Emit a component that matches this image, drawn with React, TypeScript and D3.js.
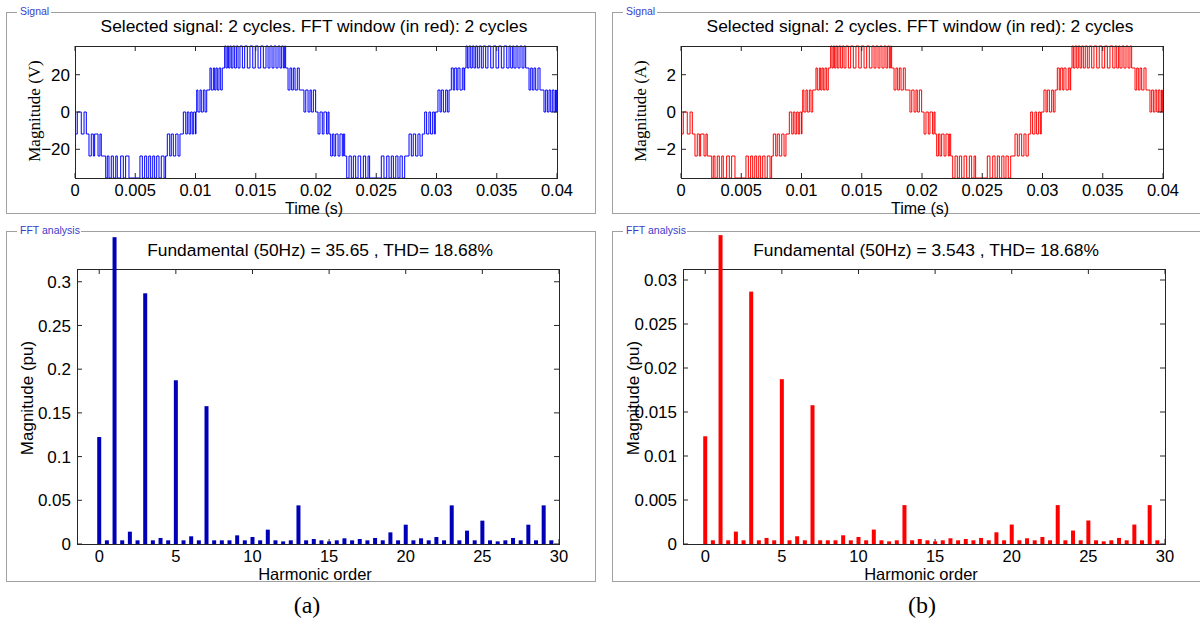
import React from "react";
import * as d3 from "d3";

// ---- signal panel data ----
const timeTicks = [0, 0.005, 0.01, 0.015, 0.02, 0.025, 0.03, 0.035, 0.04];
const voltTicks = [-20, 0, 20];
const ampTicks = [-2, 0, 2];

// Seven-level inverter output: [time (ms), level index]
const levelSteps: [number, number][] = [
  [0, 0], [0.05, -1], [0.19, 0], [0.52, -1], [0.75, 0], [0.94, -1],
  [1.16, -2], [1.35, -1], [1.52, -2], [1.63, -1], [1.91, -2], [2.07, -1], [2.18, -2],
  [2.55, -3], [2.68, -2], [2.82, -3], [3.01, -2], [3.18, -3], [3.38, -2], [3.51, -3], [3.79, -2], [4.01, -3], [4.2, -2], [4.48, -3],
  [5.39, -2], [5.59, -3], [5.78, -2], [5.95, -3], [6.12, -2], [6.28, -3], [6.45, -2], [6.61, -3], [6.78, -2], [6.97, -3], [7.16, -2], [7.39, -3], [7.52, -2],
  [7.66, -1], [7.86, -2], [7.99, -1], [8.16, -2], [8.36, -1], [8.55, -2], [8.71, -1],
  [8.99, 0], [9.19, -1], [9.32, 0], [9.46, -1], [9.6, 0], [9.73, -1], [9.85, 0], [10.0, -1], [10.04, 0],
  [10.1, 1], [10.2, 0], [10.37, 1], [10.48, 0], [10.65, 1], [10.79, 0], [10.93, 1],
  [11.2, 2], [11.31, 1], [11.48, 2], [11.59, 1], [11.7, 2], [11.81, 1], [11.95, 2], [12.09, 1], [12.22, 2],
  [12.42, 3], [12.53, 2], [12.64, 3], [12.75, 2], [12.86, 3], [12.97, 2], [13.11, 3], [13.25, 2], [13.39, 3], [13.53, 2],
  [13.69, 3], [13.89, 2], [14.08, 3], [14.3, 2], [14.52, 3], [14.75, 2], [14.96, 3], [15.19, 2], [15.41, 3], [15.63, 2],
  [15.85, 3], [16.02, 2], [16.18, 3], [16.35, 2], [16.51, 3], [16.68, 2], [16.85, 3], [17.01, 2], [17.15, 3], [17.29, 2], [17.4, 3], [17.48, 2],
  [17.68, 1], [17.84, 2], [17.98, 1], [18.12, 2], [18.26, 1], [18.45, 2], [18.61, 1],
  [19.0, 0], [19.15, 1], [19.34, 0], [19.5, 1], [19.61, 0], [19.78, 1], [19.97, 0],
  [20.17, -1], [20.33, 0], [20.52, -1], [20.66, 0], [20.88, -1], [21.0, 0], [21.08, -1],
  [21.22, -2], [21.36, -1], [21.49, -2], [21.63, -1], [21.83, -2], [21.99, -1], [22.18, -2], [22.27, -1], [22.38, -2],
  [22.55, -3], [22.74, -2], [22.93, -3], [23.1, -2], [23.29, -3], [23.49, -2], [23.71, -3], [23.93, -2], [24.12, -3], [24.32, -2], [24.45, -3],
  [25.42, -2], [25.64, -3], [25.87, -2], [26.06, -3], [26.25, -2], [26.42, -3], [26.62, -2], [26.8, -3], [26.97, -2], [27.16, -3], [27.36, -2],
  [27.72, -1], [27.91, -2], [28.07, -1], [28.27, -2], [28.46, -1], [28.63, -2], [28.82, -1],
  [29.02, 0], [29.18, -1], [29.37, 0], [29.51, -1], [29.68, 0], [29.82, -1], [29.9, 0],
  [30.12, 1], [30.29, 0], [30.4, 1], [30.57, 0], [30.76, 1], [30.9, 0], [31.04, 1],
  [31.23, 2], [31.39, 1], [31.51, 2], [31.68, 1], [31.78, 2], [31.95, 1], [32.14, 2], [32.28, 1], [32.34, 2],
  [32.45, 3], [32.56, 2], [32.7, 3], [32.84, 2], [32.97, 3], [33.11, 2], [33.25, 3], [33.39, 2], [33.55, 3], [33.72, 2],
  [33.88, 3], [34.08, 2], [34.27, 3], [34.5, 2], [34.71, 3], [34.94, 2], [35.16, 3], [35.38, 2], [35.6, 3], [35.83, 2],
  [36.02, 3], [36.16, 2], [36.32, 3], [36.43, 2], [36.6, 3], [36.76, 2], [36.93, 3], [37.1, 2], [37.26, 3], [37.4, 2],
  [37.68, 1], [37.82, 2], [37.95, 1], [38.09, 2], [38.23, 1], [38.42, 2], [38.59, 1],
  [38.92, 0], [39.06, 1], [39.2, 0], [39.34, 1], [39.48, 0], [39.61, 1], [39.75, 0], [39.88, 1], [39.95, 0], [40, 0],
];
const voltsPerLevel = 11.8;
const ampsPerLevel = 1.18;

// ---- FFT panel data ----
const harmonicTicks = [0, 5, 10, 15, 20, 25, 30];
const puTicksV = [0, 0.05, 0.1, 0.15, 0.2, 0.25, 0.3];
const puTicksI = [0, 0.005, 0.01, 0.015, 0.02, 0.025, 0.03];

const harmonicOrder = [
  0, 0.5, 1, 1.5, 2, 2.5, 3, 3.5, 4, 4.5, 5, 5.5, 6, 6.5, 7, 7.5, 8, 8.5, 9, 9.5,
  10, 10.5, 11, 11.5, 12, 12.5, 13, 13.5, 14, 14.5, 15, 15.5, 16, 16.5, 17, 17.5, 18, 18.5, 19, 19.5,
  20, 20.5, 21, 21.5, 22, 22.5, 23, 23.5, 24, 24.5, 25, 25.5, 26, 26.5, 27, 27.5, 28, 28.5, 29, 29.5,
];
const voltageSpectrum = [
  0.1224, 0.0042, 0.351, 0.0042, 0.0141, 0.0042, 0.2868, 0.0042, 0.0069, 0.0042,
  0.1873, 0.0042, 0.0088, 0.0042, 0.1577, 0.0042, 0.0042, 0.0042, 0.0099, 0.0042,
  0.008, 0.0042, 0.0164, 0.0042, 0.003, 0.0042, 0.0442, 0.0042, 0.0057, 0.0042,
  0.003, 0.0042, 0.0065, 0.0042, 0.0057, 0.0042, 0.0069, 0.0042, 0.0133, 0.0042,
  0.0221, 0.0042, 0.0065, 0.0042, 0.008, 0.0042, 0.0442, 0.0042, 0.0153, 0.0042,
  0.0267, 0.0042, 0.003, 0.0042, 0.0069, 0.0042, 0.0221, 0.0042, 0.0442, 0.0042,
];
const currentSpectrum = [
  0.01224, 0.00042, 0.0351, 0.00042, 0.00141, 0.00042, 0.02868, 0.00042, 0.00069, 0.00042,
  0.01873, 0.00042, 0.00088, 0.00042, 0.01577, 0.00042, 0.00042, 0.00042, 0.00099, 0.00042,
  0.0008, 0.00042, 0.00164, 0.00042, 0.0003, 0.00042, 0.00442, 0.00042, 0.00057, 0.00042,
  0.0003, 0.00042, 0.00065, 0.00042, 0.00057, 0.00042, 0.00069, 0.00042, 0.00133, 0.00042,
  0.00221, 0.00042, 0.00065, 0.00042, 0.0008, 0.00042, 0.00442, 0.00042, 0.00153, 0.00042,
  0.00267, 0.00042, 0.0003, 0.00042, 0.00069, 0.00042, 0.00221, 0.00042, 0.00442, 0.00042,
];

const SANS = "'Liberation Sans', Arial, sans-serif";
const SERIF = "'Liberation Serif', 'Times New Roman', serif";
const AXIS = "#262626";
const FRAME = "#a0a0a0";
const LEGEND = "#3c3cc8";
const fmt = d3.format("~g");
const FS = 17;

type PanelProps = {
  dx: number;
  color: string;
  barColor: string;
  perLevel: number;
  sigTicks: number[];
  sigLabel: string;
  puTicks: number[];
  puMax: number;
  spectrum: number[];
  fundamental: string;
  caption: string;
  captionX: number;
};

function GroupBox({ x, y, w, h, label, labelW }: { x: number; y: number; w: number; h: number; label: string; labelW: number }) {
  const gap0 = x + 11;
  const gap1 = x + 14 + labelW + 3;
  const d = `M${gap0},${y}H${x}V${y + h}H${x + w}V${y}H${gap1}`;
  return (
    <g>
      <path d={d} fill="none" stroke={FRAME} strokeWidth={1} shapeRendering="crispEdges" />
      <text x={x + 14} y={y + 3} fontFamily={SANS} fontSize={10.5} fill={LEGEND}>{label}</text>
    </g>
  );
}

function Frame({ x0, x1, y0, y1 }: { x0: number; x1: number; y0: number; y1: number }) {
  return <rect x={x0} y={y0} width={x1 - x0} height={y1 - y0} fill="none" stroke={AXIS} strokeWidth={1} shapeRendering="crispEdges" />;
}

function Panel(p: PanelProps) {
  const T = 5;
  // signal axes
  const sx0 = 75 + p.dx, sx1 = 557 + p.dx, sy0 = 46, sy1 = 178;
  const sMax = 3 * p.perLevel;
  const xs = d3.scaleLinear().domain([0, 0.04]).range([sx0, sx1]);
  const ys = d3.scaleLinear().domain([-sMax, sMax]).range([sy1, sy0]);
  const line = d3
    .line<[number, number]>()
    .x((d) => xs(d[0] / 1000))
    .y((d) => ys(d[1] * p.perLevel))
    .curve(d3.curveStepAfter);

  // fft axes
  const fx0 = 77 + p.dx, fx1 = 559 + p.dx, fy0 = 269, fy1 = 544;
  const xf = d3.scaleLinear().domain([-1.45, 30]).range([fx0, fx1]);
  const yf = d3.scaleLinear().domain([0, p.puMax]).range([fy1, fy0]);
  const barW = 4;

  const sMid = (sx0 + sx1) / 2;
  const fMid = (fx0 + fx1) / 2;

  return (
    <g>
      <GroupBox x={6 + p.dx} y={12} w={589} h={201} label="Signal" labelW={28} />
      <GroupBox x={6 + p.dx} y={231} w={589} h={350} label="FFT analysis" labelW={58} />

      {/* signal plot */}
      <text x={sMid - 2} y={32} textAnchor="middle" fontFamily={SANS} fontSize={17.4} fill="#000">
        Selected signal: 2 cycles. FFT window (in red): 2 cycles
      </text>
      <path d={line(levelSteps) || ""} fill="none" stroke={p.color} strokeWidth={1} />
      <Frame x0={sx0} x1={sx1} y0={sy0} y1={sy1} />
      {timeTicks.map((t) => (
        <g key={"tx" + t}>
          <line x1={xs(t)} x2={xs(t)} y1={sy1} y2={sy1 - T} stroke={AXIS} />
          <line x1={xs(t)} x2={xs(t)} y1={sy0} y2={sy0 + T} stroke={AXIS} />
          <text x={xs(t)} y={195.5} textAnchor="middle" fontFamily={SANS} fontSize={16.5} fill="#000">{fmt(t)}</text>
        </g>
      ))}
      {p.sigTicks.map((v) => (
        <g key={"ty" + v}>
          <line x1={sx0} x2={sx0 + T} y1={ys(v)} y2={ys(v)} stroke={AXIS} />
          <line x1={sx1} x2={sx1 - T} y1={ys(v)} y2={ys(v)} stroke={AXIS} />
          <text x={sx0 - 5} y={ys(v)} dy="0.36em" textAnchor="end" fontFamily={SANS} fontSize={FS} fill="#000">{fmt(v)}</text>
        </g>
      ))}
      <text x={sMid - 2} y={213.5} textAnchor="middle" fontFamily={SANS} fontSize={16} fill="#000">Time (s)</text>
      <text transform={`translate(${40 + p.dx},${111}) rotate(-90)`} textAnchor="middle" fontFamily={SERIF} fontSize={17} fill="#000">
        {p.sigLabel}
      </text>

      {/* fft plot */}
      <text x={fMid + 2} y={256} textAnchor="middle" fontFamily={SANS} fontSize={17.4} fill="#000">
        {`Fundamental (50Hz) = ${p.fundamental} , THD= 18.68%`}
      </text>
      <Frame x0={fx0} x1={fx1} y0={fy0} y1={fy1} />
      {harmonicTicks.map((h) => (
        <g key={"hx" + h}>
          <line x1={xf(h)} x2={xf(h)} y1={fy1} y2={fy1 - T} stroke={AXIS} />
          <line x1={xf(h)} x2={xf(h)} y1={fy0} y2={fy0 + T} stroke={AXIS} />
          <text x={xf(h)} y={562} textAnchor="middle" fontFamily={SANS} fontSize={16.5} fill="#000">{fmt(h)}</text>
        </g>
      ))}
      {p.puTicks.map((v) => (
        <g key={"hy" + v}>
          <line x1={fx0} x2={fx0 + T} y1={yf(v)} y2={yf(v)} stroke={AXIS} />
          <line x1={fx1} x2={fx1 - T} y1={yf(v)} y2={yf(v)} stroke={AXIS} />
          <text x={fx0 - 6} y={yf(v)} dy="0.36em" textAnchor="end" fontFamily={SANS} fontSize={FS} fill="#000">{fmt(v)}</text>
        </g>
      ))}
      {harmonicOrder.map((h, i) => (
        <rect
          key={"b" + h}
          x={xf(h) - barW / 2}
          y={yf(p.spectrum[i])}
          width={barW}
          height={fy1 - yf(p.spectrum[i])}
          fill={p.barColor}
        />
      ))}
      <text x={fMid - 3} y={580} textAnchor="middle" fontFamily={SANS} fontSize={16.5} fill="#000">Harmonic order</text>
      <text transform={`translate(${33 + p.dx},${398}) rotate(-90)`} textAnchor="middle" fontFamily={SANS} fontSize={17} fill="#000">
        Magnitude (pu)
      </text>

      <text x={p.captionX} y={613} textAnchor="middle" fontFamily={SERIF} fontSize={24} fill="#000">{p.caption}</text>
    </g>
  );
}

export default function App() {
  return (
    <svg
      width={1200}
      height={626}
      viewBox="0 0 1200 626"
      style={{ position: "absolute", left: 0, top: 0, background: "#fff" }}
    >
      <rect width={1200} height={626} fill="#fff" />
      <Panel
        dx={0}
        color="#0000ff"
        barColor="#0000b8"
        perLevel={voltsPerLevel}
        sigTicks={voltTicks}
        sigLabel="Magnitude (V)"
        puTicks={puTicksV}
        puMax={0.3146}
        spectrum={voltageSpectrum}
        fundamental="35.65"
        caption="(a)"
        captionX={307}
      />
      <Panel
        dx={606}
        color="#ff0000"
        barColor="#ff0000"
        perLevel={ampsPerLevel}
        sigTicks={ampTicks}
        sigLabel="Magnitude (A)"
        puTicks={puTicksI}
        puMax={0.03125}
        spectrum={currentSpectrum}
        fundamental="3.543"
        caption="(b)"
        captionX={922}
      />
    </svg>
  );
}
